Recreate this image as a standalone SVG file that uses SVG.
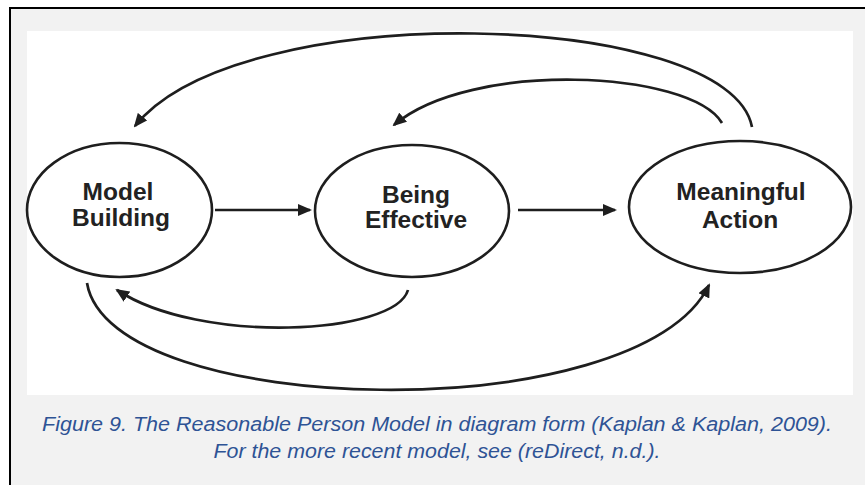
<svg xmlns="http://www.w3.org/2000/svg" width="865" height="485" viewBox="0 0 865 485">
  <style>
    .node ellipse { fill: #ffffff; stroke: #1e1e1e; stroke-width: 2.6; }
    .node text { font-family: "Liberation Sans", Arial, sans-serif; font-weight: bold; font-size: 24.5px; fill: #222222; text-anchor: middle; }
    .conn path { fill: none; stroke: #1e1e1e; stroke-width: 2.7; marker-end: url(#ah); }
    .caption { font-family: "Liberation Sans", Arial, sans-serif; font-style: italic; font-size: 20px; fill: #2E5395; text-anchor: middle; }
  </style>
  <defs>
    <marker id="ah" viewBox="0 0 14 12" refX="12" refY="6" markerWidth="14" markerHeight="12" markerUnits="userSpaceOnUse" orient="auto">
      <path d="M0,0 L14,6 L0,12 z" fill="#1e1e1e"/>
    </marker>
  </defs>

  <rect x="0" y="0" width="865" height="485" fill="#ffffff"/>
  <rect x="10" y="8" width="855" height="477" fill="#f2f2f2"/>
  <path d="M10,485 L10,8 L865,8" fill="none" stroke="#000000" stroke-width="2"/>
  <rect x="27" y="31" width="826" height="364" fill="#ffffff"/>

  <g class="conn" id="connectors">
    <path d="M215,210 L310,210"/>
    <path d="M518,210 L615,210"/>
    <path d="M752,127 C730,10 240,-5 135,126"/>
    <path d="M722,123 C690,70 470,60 394,125"/>
    <path d="M408,290 C395,335 200,345 117,290"/>
    <path d="M87,283 C110,420 640,430 709,285"/>
  </g>

  <g class="node" id="model-building">
    <ellipse cx="119.5" cy="210" rx="92.5" ry="67"/>
    <text x="118" y="200">Model</text>
    <text x="121" y="226">Building</text>
  </g>
  <g class="node" id="being-effective">
    <ellipse cx="412" cy="211" rx="97" ry="66"/>
    <text x="416" y="203">Being</text>
    <text x="416" y="228">Effective</text>
  </g>
  <g class="node" id="meaningful-action">
    <ellipse cx="740" cy="207" rx="111" ry="66"/>
    <text x="741" y="200">Meaningful</text>
    <text x="740" y="228">Action</text>
  </g>

  <text class="caption" x="437" y="431" textLength="790" lengthAdjust="spacingAndGlyphs">Figure 9. The Reasonable Person Model in diagram form (Kaplan &amp; Kaplan, 2009).</text>
  <text class="caption" x="437" y="458" textLength="447" lengthAdjust="spacingAndGlyphs">For the more recent model, see (reDirect, n.d.).</text>
</svg>
